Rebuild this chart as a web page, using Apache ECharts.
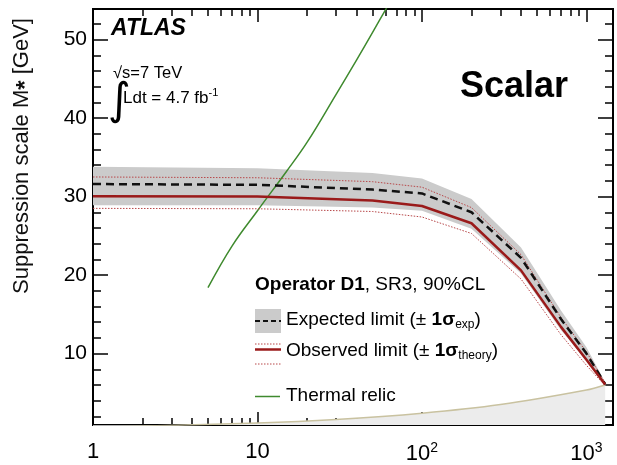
<!DOCTYPE html>
<html>
<head>
<meta charset="utf-8">
<script src="https://cdn.jsdelivr.net/npm/echarts@6/dist/echarts.min.js"></script>
<style>
  html, body { margin: 0; padding: 0; background: #fff; }
  #chart { width: 617px; height: 465px; }
</style>
</head>
<body>
<div id="chart"></div>
<script>
// WIMP mass points (GeV) of the D1 limit curves
const massPoints = [1, 10, 50, 100, 200, 400, 700, 1000, 1300];
// Expected limit on M* with its ±1σ band
const expected = [31.6, 31.5, 30.9, 30.4, 28.0, 22.2, 14.4, 10.0, 6.1];
const expectedUp = [33.8, 33.6, 33.0, 32.3, 29.7, 23.5, 15.5, 10.8, 6.3];
const expectedDown = [28.9, 28.9, 28.6, 28.2, 25.9, 20.2, 13.0, 9.1, 5.9];
// Observed limit with ±1σ theory variation
const observed = [30.05, 30.0, 29.5, 28.8, 26.6, 20.6, 13.4, 9.2, 6.05];
const observedUp = [32.5, 32.4, 31.9, 31.2, 28.6, 22.6, 14.6, 10.2, 6.25];
const observedDown = [28.5, 28.45, 28.1, 27.4, 25.3, 19.5, 12.4, 8.5, 5.9];
// Thermal relic curve
const relicMass = [5, 7, 10, 15, 20, 30, 40, 50, 60, 70];
const relicScale = [18.4, 23.7, 28.2, 33.2, 36.9, 43.0, 47.4, 50.9, 53.8, 56.3];
// Lower boundary of the shaded region at the bottom
const validityMass = [1, 10, 30, 100, 300, 1000, 1300];
const validityScale = [0.6, 1.15, 1.6, 2.4, 3.5, 5.35, 6.0];

// Axis ticks
const xMajorTicks = [1, 10, 100, 1000];
const xMinorTicks = [2, 3, 4, 5, 6, 7, 8, 9, 20, 30, 40, 50, 60, 70, 80, 90,
  200, 300, 400, 500, 600, 700, 800, 900];
const yMajorTicks = [10, 20, 30, 40, 50];
const yMinorTicks = [2, 4, 6, 8, 12, 14, 16, 18, 22, 24, 26, 28, 32, 34, 36, 38,
  42, 44, 46, 48, 52];

const FONT = 'Liberation Sans, Arial, Helvetica, sans-serif';
const X_MIN = 1, X_MAX = 1450, Y_MIN = 0.9, Y_MAX = 53.9;

const pairs = (xs, ys) => xs.map((x, i) => [x, ys[i]]);

function xLabel(v) {
  const e = Math.round(Math.log10(v));
  if (e === 0) return '1';
  if (e === 1) return '10';
  return '10{sup|' + e + '}';
}

function xAxisDef(position, ticks, len, withLabels) {
  return {
    type: 'log', logBase: 10, min: X_MIN, max: X_MAX, position: position,
    axisLine: { show: false },
    splitLine: { show: false },
    minorTick: { show: false },
    axisTick: { show: true, inside: true, length: len, customValues: ticks,
      lineStyle: { color: '#000', width: 1.5 } },
    axisLabel: withLabels ? {
      show: true, customValues: ticks, margin: 16,
      fontFamily: FONT, fontSize: 22, color: '#000',
      formatter: xLabel,
      rich: { sup: { fontSize: 14, fontFamily: FONT, color: '#000', padding: [0, 0, 12, 0] } }
    } : { show: false }
  };
}

function yAxisDef(position, ticks, len, withLabels) {
  return {
    type: 'value', min: Y_MIN, max: Y_MAX, position: position,
    axisLine: { show: false },
    splitLine: { show: false },
    axisTick: { show: true, inside: true, length: len, customValues: ticks,
      lineStyle: { color: '#000', width: 1.5 } },
    axisLabel: withLabels ? {
      show: true, customValues: ticks, margin: 6,
      fontFamily: FONT, fontSize: 21, color: '#000'
    } : { show: false }
  };
}

// Expected ±1σ band as one filled polygon: upper edge left→right, lower edge back
function renderBand(params, api) {
  if (params.dataIndex !== 0) return null;
  const pts = [];
  for (let i = 0; i < massPoints.length; i++) pts.push(api.coord([massPoints[i], expectedUp[i]]));
  for (let i = massPoints.length - 1; i >= 0; i--) pts.push(api.coord([massPoints[i], expectedDown[i]]));
  return {
    type: 'polygon',
    shape: { points: pts },
    style: { fill: '#cbcbcb', stroke: null }
  };
}

const chart = echarts.init(document.getElementById('chart'), null, { renderer: 'canvas' });

const noSym = { showSymbol: false, symbol: 'none' };

chart.setOption({
  animation: false,
  backgroundColor: '#fff',
  grid: {
    left: 93, right: 4, top: 9, bottom: 35,
    show: true, borderColor: '#000', borderWidth: 2, backgroundColor: 'transparent'
  },
  xAxis: [
    xAxisDef('bottom', xMajorTicks, 13, true),
    xAxisDef('bottom', xMinorTicks, 7, false),
    xAxisDef('top', xMajorTicks, 13, false),
    xAxisDef('top', xMinorTicks, 7, false)
  ],
  yAxis: [
    yAxisDef('left', yMajorTicks, 15, true),
    yAxisDef('left', yMinorTicks, 8, false),
    yAxisDef('right', yMajorTicks, 15, false),
    yAxisDef('right', yMinorTicks, 8, false)
  ],
  series: [
    {
      type: 'custom', name: 'expBand', renderItem: renderBand, clip: true,
      data: massPoints.map((m, i) => [m, expectedDown[i], expectedUp[i]]),
      encode: { x: 0, y: [1, 2] }, z: 1
    },
    // shaded region at the bottom
    Object.assign({
      type: 'line', name: 'validity', smooth: 0.3,
      data: pairs(validityMass, validityScale),
      lineStyle: { color: '#c9c2a0', width: 1.5 },
      areaStyle: { color: '#ececec', opacity: 1, origin: 'start' }, z: 2
    }, noSym),
    // thermal relic
    Object.assign({
      type: 'line', name: 'Thermal relic', smooth: 0.4,
      data: pairs(relicMass, relicScale),
      lineStyle: { color: '#3f8a2e', width: 1.5 }, z: 3
    }, noSym),
    // theory ±1σ
    Object.assign({
      type: 'line', name: 'obsUp',
      data: pairs(massPoints, observedUp),
      lineStyle: { color: '#b8484a', width: 1, type: [1.5, 1.5] }, z: 4
    }, noSym),
    Object.assign({
      type: 'line', name: 'obsDown',
      data: pairs(massPoints, observedDown),
      lineStyle: { color: '#b8484a', width: 1, type: [1.5, 1.5] }, z: 4
    }, noSym),
    // expected limit
    Object.assign({
      type: 'line', name: 'Expected limit',
      data: pairs(massPoints, expected),
      lineStyle: { color: '#111', width: 2.5, type: [8, 5] }, z: 5
    }, noSym),
    // observed limit
    Object.assign({
      type: 'line', name: 'Observed limit',
      data: pairs(massPoints, observed),
      lineStyle: { color: '#9a1a1a', width: 2.5 }, z: 6
    }, noSym)
  ],
  graphic: [
    // y-axis title
    {
      type: 'text', x: 22, y: 156, rotation: Math.PI / 2, z: 10,
      style: {
        text: 'Suppression scale M{s|*} [GeV]',
        fontFamily: FONT, fontSize: 22, fill: '#111',
        align: 'center', verticalAlign: 'middle',
        rich: { s: { fontFamily: FONT, fontSize: 24, fontWeight: 'bold', fill: '#111', padding: [8, 0, 0, 0] } }
      }
    },
    // experiment label and run conditions
    { type: 'text', x: 111, y: 29, z: 10,
      style: { text: 'ATLAS', fontFamily: FONT, fontSize: 23, fontWeight: 'bold', fontStyle: 'italic',
        fill: '#000', verticalAlign: 'middle' } },
    { type: 'text', x: 113, y: 73, z: 10,
      style: { text: '\u221As=7 TeV', fontFamily: FONT, fontSize: 16.5, fill: '#000', verticalAlign: 'middle' } },
    { type: 'text', x: 108, y: 103, z: 10,
      style: { text: '\u222B', fontFamily: 'DejaVu Sans, sans-serif', fontSize: 44, fill: '#000', verticalAlign: 'middle' } },
    { type: 'text', x: 123, y: 98, z: 10,
      style: { text: 'Ldt = 4.7 fb{sup|-1}', fontFamily: FONT, fontSize: 17, fill: '#000', verticalAlign: 'middle',
        rich: { sup: { fontFamily: FONT, fontSize: 11, fill: '#000', padding: [0, 0, 10, 0] } } } },
    { type: 'text', x: 514, y: 87, z: 10,
      style: { text: 'Scalar', fontFamily: FONT, fontSize: 36, fontWeight: 'bold', fill: '#000',
        align: 'center', verticalAlign: 'middle' } },
    // legend
    { type: 'text', x: 255, y: 285, z: 10,
      style: { text: '{b|Operator D1}, SR3, 90%CL', fontFamily: FONT, fontSize: 19, fill: '#000', verticalAlign: 'middle',
        rich: { b: { fontFamily: FONT, fontSize: 19, fontWeight: 'bold', fill: '#000' } } } },
    { type: 'rect', z: 10, shape: { x: 255, y: 309, width: 26, height: 24 }, style: { fill: '#cbcbcb' } },
    { type: 'line', z: 11, shape: { x1: 255, y1: 321, x2: 281, y2: 321 },
      style: { stroke: '#111', lineWidth: 2, lineDash: [5, 3] } },
    { type: 'text', x: 286, y: 320, z: 10,
      style: { text: 'Expected limit (\u00B1 {b|1\u03C3}{s|exp})', fontFamily: FONT, fontSize: 19, fill: '#000', verticalAlign: 'middle',
        rich: { b: { fontFamily: FONT, fontSize: 19, fontWeight: 'bold', fill: '#000' },
                s: { fontFamily: FONT, fontSize: 12, fill: '#000', padding: [10, 0, 0, 0] } } } },
    { type: 'line', z: 11, shape: { x1: 255, y1: 344, x2: 281, y2: 344 },
      style: { stroke: '#b8484a', lineWidth: 1, lineDash: [1.5, 1.5] } },
    { type: 'line', z: 11, shape: { x1: 255, y1: 349.5, x2: 281, y2: 349.5 },
      style: { stroke: '#9a1a1a', lineWidth: 2.5 } },
    { type: 'line', z: 11, shape: { x1: 255, y1: 364, x2: 281, y2: 364 },
      style: { stroke: '#b8484a', lineWidth: 1, lineDash: [1.5, 1.5] } },
    { type: 'text', x: 286, y: 351, z: 10,
      style: { text: 'Observed limit (\u00B1 {b|1\u03C3}{s|theory})', fontFamily: FONT, fontSize: 19, fill: '#000', verticalAlign: 'middle',
        rich: { b: { fontFamily: FONT, fontSize: 19, fontWeight: 'bold', fill: '#000' },
                s: { fontFamily: FONT, fontSize: 12, fill: '#000', padding: [10, 0, 0, 0] } } } },
    { type: 'line', z: 11, shape: { x1: 255, y1: 396.5, x2: 280, y2: 396.5 },
      style: { stroke: '#3f8a2e', lineWidth: 1.5 } },
    { type: 'text', x: 286, y: 396, z: 10,
      style: { text: 'Thermal relic', fontFamily: FONT, fontSize: 19, fill: '#000', verticalAlign: 'middle' } }
  ]
});
</script>
</body>
</html>
